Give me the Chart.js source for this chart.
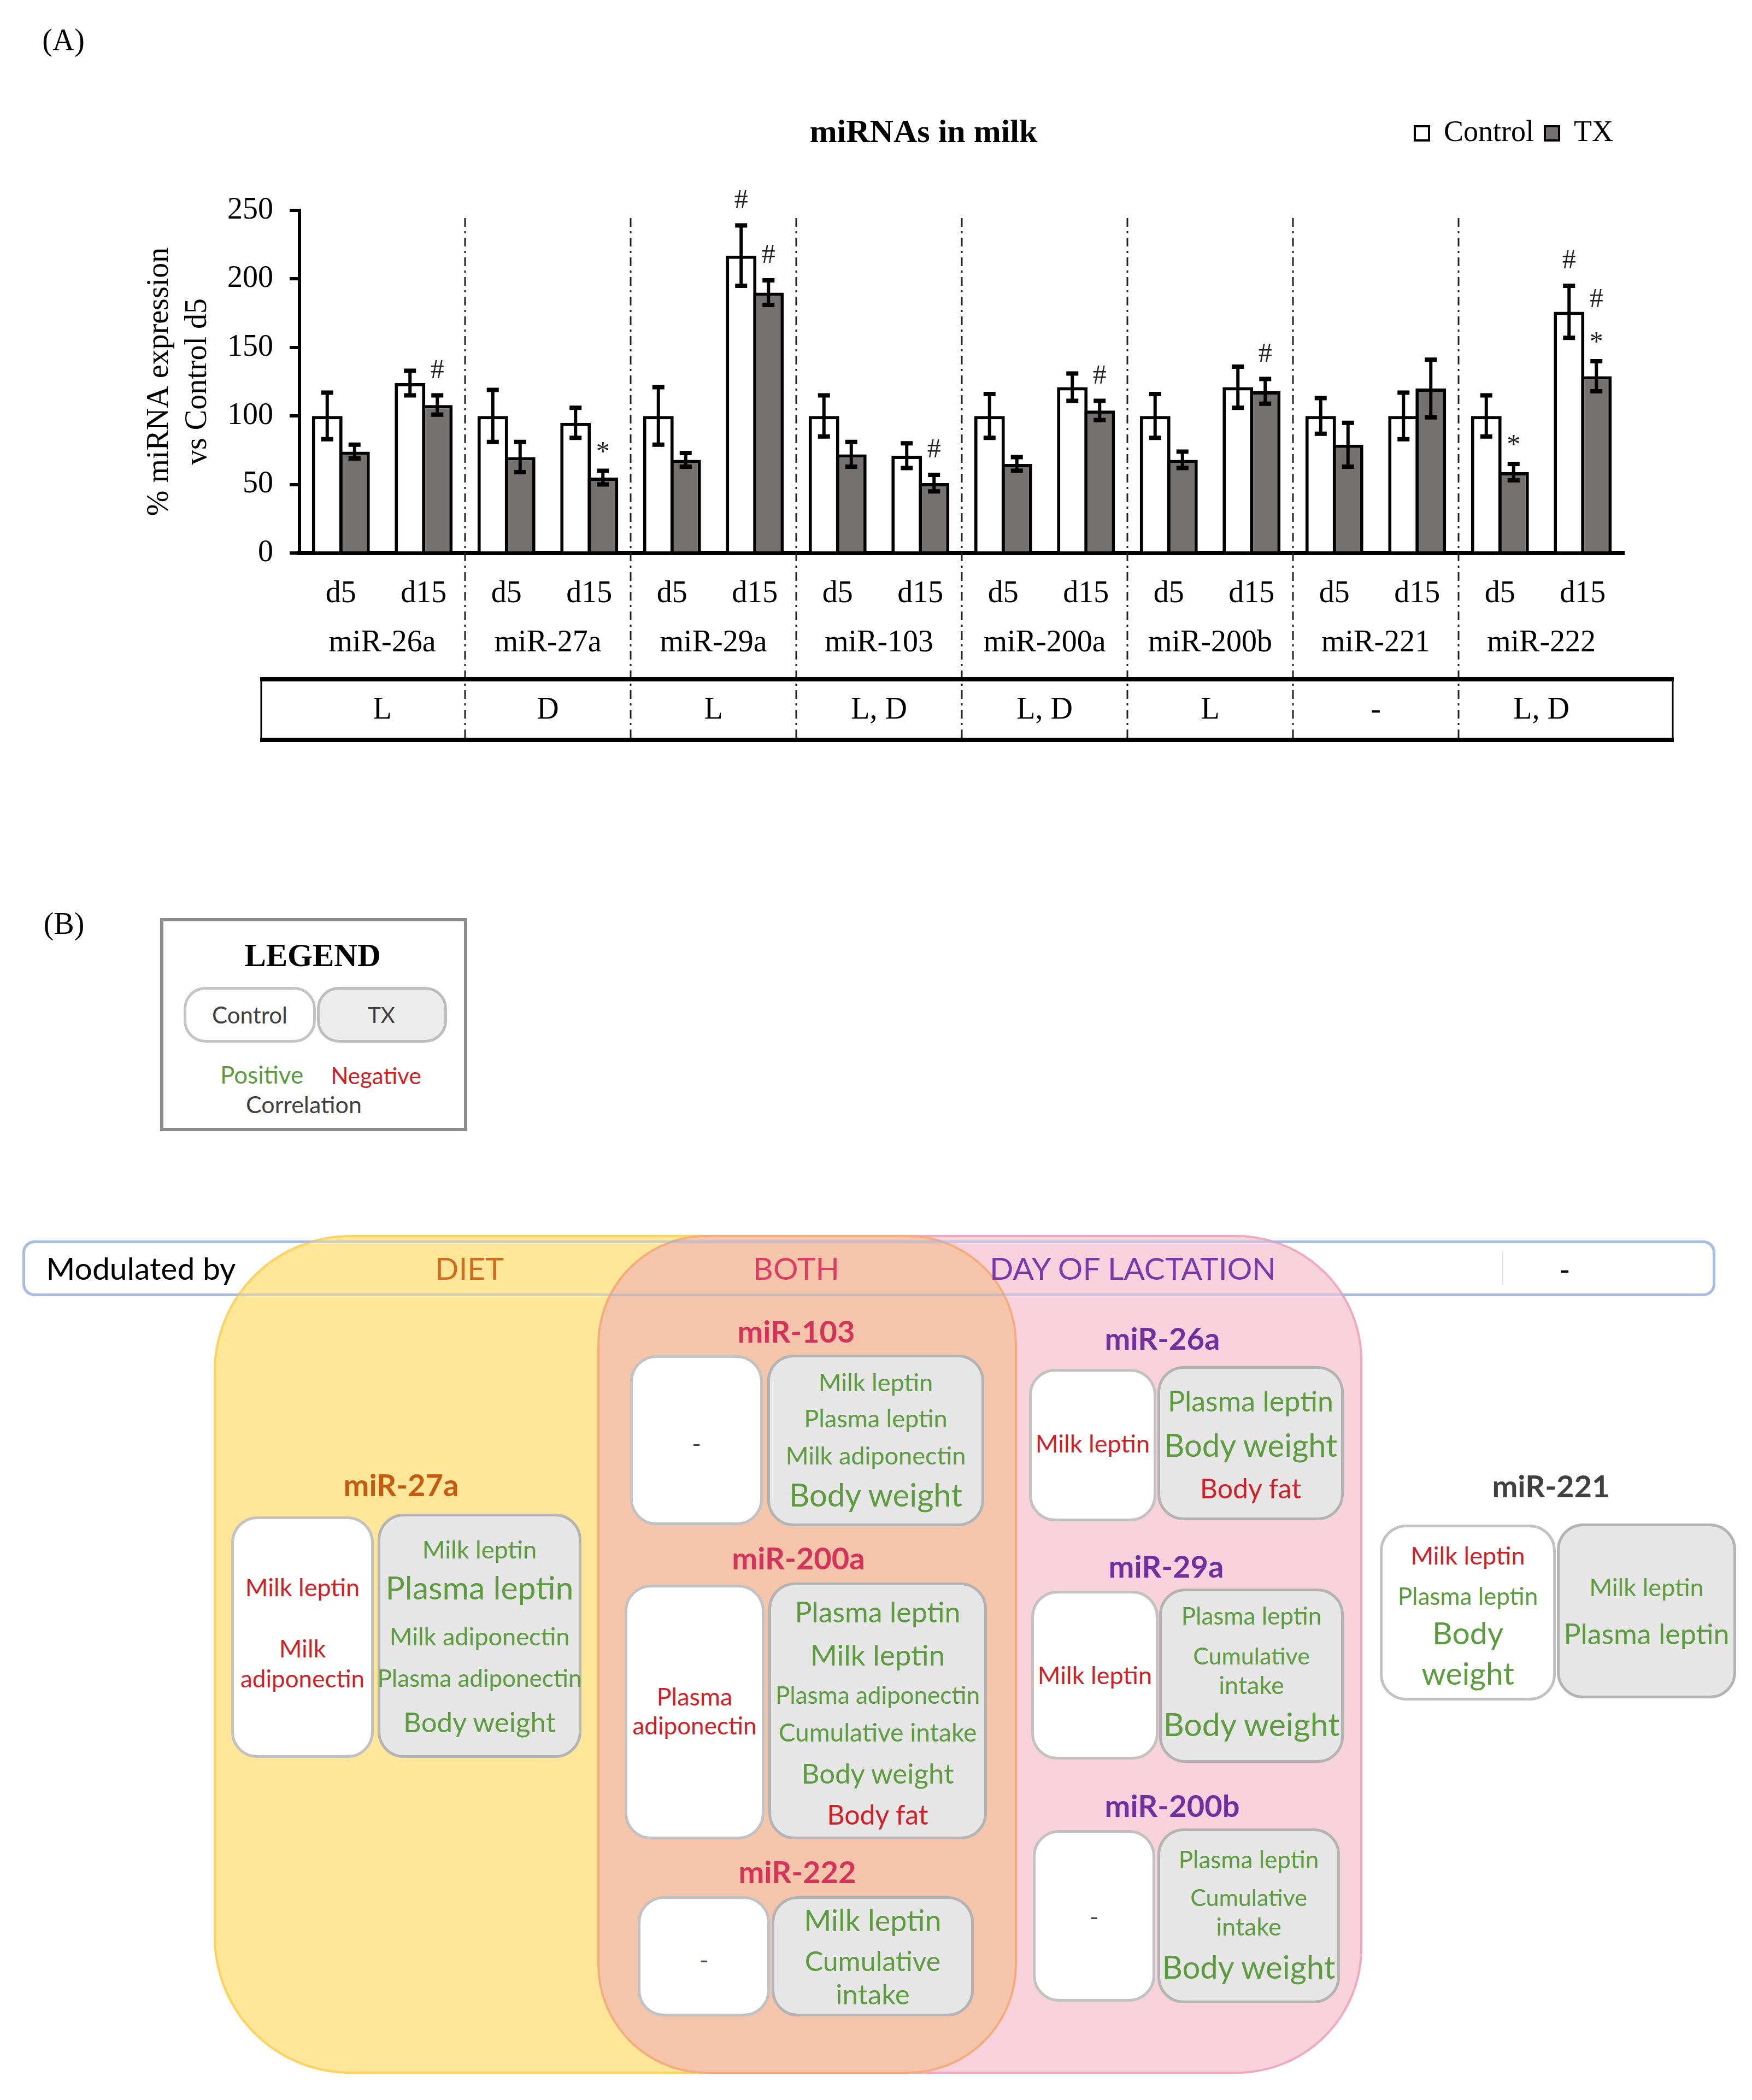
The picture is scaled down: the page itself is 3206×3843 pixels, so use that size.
<!DOCTYPE html>
<html>
<head>
<meta charset="utf-8">
<script src="https://cdn.jsdelivr.net/npm/chart.js@4.4.1/dist/chart.umd.min.js"></script>
<style>
  html, body { margin: 0; padding: 0; background: #fff; }
  body { width: 3206px; height: 3843px; position: relative; overflow: hidden; font-family: Lato, "Noto Sans", sans-serif; }
  #chartA { position: absolute; left: 0; top: 0; }
  .shape { position: absolute; box-sizing: border-box; }
  .t { position: absolute; transform: translate(-50%, -50%); white-space: nowrap; line-height: 1; }
</style>
</head>
<body>
<canvas id="chartA" width="3206" height="1450"></canvas>
<div id="partB"></div>
<script>
// ---- panel A data ----
const groups = ['miR-26a', 'miR-27a', 'miR-29a', 'miR-103', 'miR-200a', 'miR-200b', 'miR-221', 'miR-222'];
const days = ['d5', 'd15'];
const modulation = ['L', 'D', 'L', 'L, D', 'L, D', 'L', '-', 'L, D'];

// one value per group/day: d5, d15, d5, d15 ...
const controlMean = [100, 124, 100, 95, 100, 217, 100, 71, 100, 121, 100, 121, 100, 100, 100, 176];
const controlErr  = [17, 9, 19, 11, 21, 22, 15, 9, 16, 10, 16, 15, 13, 17, 15, 19];
const txMean      = [74, 108, 70, 55, 68, 190, 72, 51, 65, 104, 68, 118, 79, 120, 59, 129];
const txErr       = [5, 7, 11, 5, 5, 9, 9, 6, 5, 7, 6, 9, 16, 21, 6, 11];
// significance marks, top to bottom
const controlMarks = ['', '', '', '', '', '#', '', '', '', '', '', '', '', '', '', '#'];
const txMarks      = ['', '#', '', '*', '', '#', '', '#', '', '#', '', '#', '', '', '*', '#*'];

const yTicks = [0, 50, 100, 150, 200, 250];

const serif = '"Liberation Serif", "Times New Roman", serif';
const labels = groups.flatMap(() => days);

const errorBars = {
  id: 'errorBars',
  afterDatasetsDraw(chart) {
    const { ctx, scales: { y } } = chart;
    const sets = [[controlMean, controlErr, controlMarks], [txMean, txErr, txMarks]];
    ctx.save();
    sets.forEach(([mean, err, marks], d) => {
      chart.getDatasetMeta(d).data.forEach((bar, i) => {
        const top = y.getPixelForValue(mean[i] + err[i]);
        const bot = y.getPixelForValue(mean[i] - err[i]);
        ctx.strokeStyle = '#000';
        ctx.lineWidth = 6;
        ctx.beginPath();
        ctx.moveTo(bar.x, top);
        ctx.lineTo(bar.x, bot);
        ctx.stroke();
        ctx.lineWidth = 8;
        ctx.beginPath();
        ctx.moveTo(bar.x - 11, top); ctx.lineTo(bar.x + 11, top);
        ctx.moveTo(bar.x - 11, bot); ctx.lineTo(bar.x + 11, bot);
        ctx.stroke();
        if (marks[i]) {
          ctx.fillStyle = '#222';
          ctx.font = '50px ' + serif;
          ctx.textAlign = 'center';
          ctx.textBaseline = 'middle';
          marks[i].split('').reverse().forEach((m, j) => {
            const my = top - 45 - j * 67 + (m === '*' ? 12 : 0);
            ctx.fillText(m, bar.x, my);
          });
        }
      });
    });
    ctx.restore();
  }
};

const groupDecor = {
  id: 'groupDecor',
  afterDraw(chart) {
    const { ctx, chartArea: ca, scales: { x } } = chart;
    const half = (x.getPixelForValue(1) - x.getPixelForValue(0)) / 2;
    const boxTop = ca.bottom + 231, boxBot = ca.bottom + 342;
    const boxL = ca.left - 70, boxR = ca.right + 89;
    ctx.save();
    // dashed separators between miRNAs
    ctx.strokeStyle = '#222';
    ctx.lineWidth = 3;
    ctx.setLineDash([16, 8, 4, 8]);
    for (let g = 1; g < groups.length; g++) {
      const sx = x.getPixelForValue(2 * g) - half;
      ctx.beginPath();
      ctx.moveTo(sx, ca.top + 14);
      ctx.lineTo(sx, boxBot);
      ctx.stroke();
    }
    ctx.setLineDash([]);
    // modulation box
    ctx.strokeStyle = '#000';
    ctx.lineWidth = 3;
    ctx.beginPath();
    ctx.moveTo(boxL, boxTop); ctx.lineTo(boxL, boxBot);
    ctx.moveTo(boxR, boxTop); ctx.lineTo(boxR, boxBot);
    ctx.stroke();
    ctx.lineWidth = 8;
    ctx.beginPath();
    ctx.moveTo(boxL - 2, boxTop); ctx.lineTo(boxR + 2, boxTop);
    ctx.moveTo(boxL - 2, boxBot); ctx.lineTo(boxR + 2, boxBot);
    ctx.stroke();
    // group names and modulation letters
    ctx.fillStyle = '#000';
    ctx.font = '56px ' + serif;
    ctx.textAlign = 'center';
    ctx.textBaseline = 'middle';
    groups.forEach((g, i) => {
      const cx = (x.getPixelForValue(2 * i) + x.getPixelForValue(2 * i + 1)) / 2;
      ctx.fillText(g, cx, ca.bottom + 165);
      ctx.fillText(modulation[i], cx, boxTop + 57);
    });
    // chart title on the legend line
    const lg = chart.legend;
    ctx.font = 'bold 60px ' + serif;
    ctx.fillText('miRNAs in milk', 1690, lg.top + 20 + 27);
    ctx.restore();
  }
};

new Chart(document.getElementById('chartA'), {
  type: 'bar',
  data: {
    labels: labels,
    datasets: [
      { label: 'Control', data: controlMean, backgroundColor: '#ffffff' },
      { label: 'TX', data: txMean, backgroundColor: '#767171' }
    ]
  },
  options: {
    responsive: false,
    animation: false,
    devicePixelRatio: 1,
    layout: { padding: { top: 197, right: 234, bottom: 0, left: 0 } },
    datasets: {
      bar: { categoryPercentage: 0.66, barPercentage: 1.12, borderWidth: 6, borderColor: '#000' }
    },
    plugins: {
      legend: {
        position: 'top',
        align: 'end',
        labels: {
          font: { family: serif, size: 54 },
          color: '#000',
          boxWidth: 26,
          boxHeight: 26,
          padding: 20,
          generateLabels(chart) {
            const items = Chart.defaults.plugins.legend.labels.generateLabels(chart);
            items.forEach(it => { it.lineWidth = 4; it.strokeStyle = '#000'; });
            return items;
          }
        }
      },
      // empty spacer below the legend
      title: { display: true, text: '', weight: 500, font: { size: 10 }, padding: { top: 0, bottom: 92 } },
      tooltip: { enabled: false }
    },
    scales: {
      x: {
        grid: { display: false },
        border: { display: true, color: '#000', width: 8 },
        ticks: { font: { family: serif, size: 56 }, color: '#000', padding: 34, maxRotation: 0, autoSkip: false },
        afterFit(s) { s.height = 438; }
      },
      y: {
        min: 0,
        max: 250,
        afterBuildTicks(s) { s.ticks = yTicks.map(v => ({ value: v })); },
        ticks: { font: { family: serif, size: 56 }, color: '#000', padding: 30 },
        grid: { drawOnChartArea: false, drawTicks: true, tickLength: 18, lineWidth: 6, color: '#000' },
        border: { display: true, color: '#000', width: 6 },
        title: {
          display: true,
          text: ['% miRNA expression', 'vs Control d5'],
          font: { family: serif, size: 56, lineHeight: 1.25 },
          color: '#000',
          padding: { top: 257, bottom: 0 }
        },
        afterFit(s) { s.width = 548; }
      }
    }
  },
  plugins: [errorBars, groupDecor]
});

// ---- panel B (diagram) ----
const G = '#5c9b3e', R = '#d01f27', DK = '#404040';
const B = document.getElementById('partB');

function shape(x, y, w, h, css) {
  const d = document.createElement('div');
  d.className = 'shape';
  Object.assign(d.style, { left: x + 'px', top: y + 'px', width: w + 'px', height: h + 'px' }, css);
  B.appendChild(d);
  return d;
}
function txt(x, y, s, size, color, extra) {
  const d = document.createElement('div');
  d.className = 't';
  d.textContent = s;
  Object.assign(d.style, { left: x + 'px', top: y + 'px', fontSize: size + 'px', color: color }, extra || {});
  B.appendChild(d);
  return d;
}

txt(116, 73, '(A)', 56, '#000', { fontFamily: serif });
txt(117, 1690, '(B)', 56, '#000', { fontFamily: serif });

// legend of panel B
shape(293, 1680, 562, 390, { border: '6px solid #8c8c8c', background: '#fff' });
txt(572, 1748, 'LEGEND', 59, '#000', { fontFamily: serif, fontWeight: 'bold' });
shape(336, 1806, 242, 102, { border: '5px solid #c4c4c4', borderRadius: '40px', background: '#fff' });
shape(580, 1806, 238, 102, { border: '5px solid #bdbdbd', borderRadius: '40px', background: '#ececec' });
txt(457, 1857, 'Control', 42, DK);
txt(698, 1857, 'TX', 40, DK);
txt(479, 1966, 'Positive', 44, G);
txt(688, 1968, 'Negative', 42, R);
txt(556, 2020, 'Correlation', 43, DK);

// header bar
shape(41, 2270, 3098, 102, { border: '5px solid #b4c7e7', borderRadius: '22px', background: '#fff' });

// venn-like regions
const regions = [
  { x: 391, y: 2260, w: 1470, h: 1535, fill: '#ffe699', line: '#ffd25e', r: 250 },
  { x: 1093, y: 2260, w: 1400, h: 1535, fill: '#f7d2dd', line: '#f0a9bf', r: 230 },
  { x: 1093, y: 2260, w: 768, h: 1535, fill: '#f5c5ab', line: '#f4ac7c', r: 200 }
];
regions.forEach(g => shape(g.x, g.y, g.w, g.h, { background: g.fill, border: '4px solid ' + g.line, borderRadius: g.r + 'px' }));

// bar outline visible through the regions
shape(41, 2270, 3098, 102, { border: '5px solid rgba(150,175,225,0.45)', borderRadius: '22px' });
shape(2749, 2290, 2, 62, { background: '#e0e0e0' });

txt(258, 2320, 'Modulated by', 57, '#000');
txt(859, 2320, 'DIET', 57, '#cf6c1f');
txt(1457, 2320, 'BOTH', 57, '#dc3d62');
txt(2073, 2320, 'DAY OF LACTATION', 57, '#7a3aae');
txt(2863, 2322, '-', 57, '#000');

// miRNA panels: heading, control box, TX box with correlated variables
const panels = [
  { name: 'miR-27a', hx: 734, hy: 2717, hc: '#c55a11',
    ctrl: [423, 2775, 684, 3217], ctrlLines: [['Milk leptin', 2904, 45, R], ['Milk', 3016, 45, R], ['adiponectin', 3071, 44, R]],
    tx: [691, 2770, 1064, 3217], txLines: [['Milk leptin', 2835, 45, G], ['Plasma leptin', 2904, 59, G], ['Milk adiponectin', 2994, 45, G], ['Plasma adiponectin', 3070, 44, G], ['Body weight', 3150, 51, G]] },
  { name: 'miR-103', hx: 1457, hy: 2436, hc: '#d6335a',
    ctrl: [1153, 2480, 1396, 2791], ctrlLines: [['-', 2641, 45, DK]],
    tx: [1404, 2479, 1801, 2793], txLines: [['Milk leptin', 2529, 45, G], ['Plasma leptin', 2595, 45, G], ['Milk adiponectin', 2663, 45, G], ['Body weight', 2735, 58, G]] },
  { name: 'miR-200a', hx: 1461, hy: 2851, hc: '#d6335a',
    ctrl: [1143, 2900, 1399, 3366], ctrlLines: [['Plasma', 3104, 45, R], ['adiponectin', 3157, 44, R]],
    tx: [1406, 2896, 1806, 3366], txLines: [['Plasma leptin', 2949, 52, G], ['Milk leptin', 3027, 53, G], ['Plasma adiponectin', 3101, 44, G], ['Cumulative intake', 3170, 46, G], ['Body weight', 3244, 51, G], ['Body fat', 3320, 50, R]] },
  { name: 'miR-222', hx: 1459, hy: 3425, hc: '#d6335a',
    ctrl: [1167, 3470, 1409, 3690], ctrlLines: [['-', 3586, 45, DK]],
    tx: [1412, 3470, 1782, 3690], txLines: [['Milk leptin', 3514, 54, G], ['Cumulative', 3588, 50, G], ['intake', 3648, 51, G]] },
  { name: 'miR-26a', hx: 2127, hy: 2449, hc: '#7030a0',
    ctrl: [1883, 2505, 2116, 2784], ctrlLines: [['Milk leptin', 2641, 45, R]],
    tx: [2118, 2500, 2459, 2782], txLines: [['Plasma leptin', 2563, 52, G], ['Body weight', 2644, 58, G], ['Body fat', 2723, 50, R]] },
  { name: 'miR-29a', hx: 2134, hy: 2866, hc: '#7030a0',
    ctrl: [1887, 2911, 2120, 3220], ctrlLines: [['Milk leptin', 3065, 45, R]],
    tx: [2121, 2907, 2459, 3226], txLines: [['Plasma leptin', 2956, 44, G], ['Cumulative', 3029, 43, G], ['intake', 3083, 45, G], ['Body weight', 3154, 59, G]] },
  { name: 'miR-200b', hx: 2145, hy: 3304, hc: '#7030a0',
    ctrl: [1890, 3349, 2114, 3663], ctrlLines: [['-', 3507, 45, DK]],
    tx: [2118, 3346, 2452, 3666], txLines: [['Plasma leptin', 3402, 44, G], ['Cumulative', 3471, 43, G], ['intake', 3525, 45, G], ['Body weight', 3599, 58, G]] },
  { name: 'miR-221', hx: 2838, hy: 2719, hc: '#404040',
    ctrl: [2525, 2790, 2847, 3112], ctrlLines: [['Milk leptin', 2846, 45, R], ['Plasma leptin', 2920, 44, G], ['Body', 2987, 57, G], ['weight', 3061, 57, G]],
    tx: [2849, 2788, 3177, 3108], txLines: [['Milk leptin', 2904, 45, G], ['Plasma leptin', 2989, 52, G]] }
];

panels.forEach(p => {
  txt(p.hx, p.hy, p.name, 56, p.hc, { fontWeight: 'bold' });
  const [cl, ct, cr, cb] = p.ctrl;
  shape(cl, ct, cr - cl, cb - ct, { background: '#fff', border: '5px solid #c2c2c2', borderRadius: '48px' });
  p.ctrlLines.forEach(([s, y, size, c]) => txt((cl + cr) / 2, y, s, size, c));
  const [tl, tt, tr, tb] = p.tx;
  shape(tl, tt, tr - tl, tb - tt, { background: '#e6e6e6', border: '5px solid #b3b3b3', borderRadius: '48px' });
  p.txLines.forEach(([s, y, size, c]) => txt((tl + tr) / 2, y, s, size, c));
});
</script>
</body>
</html>
